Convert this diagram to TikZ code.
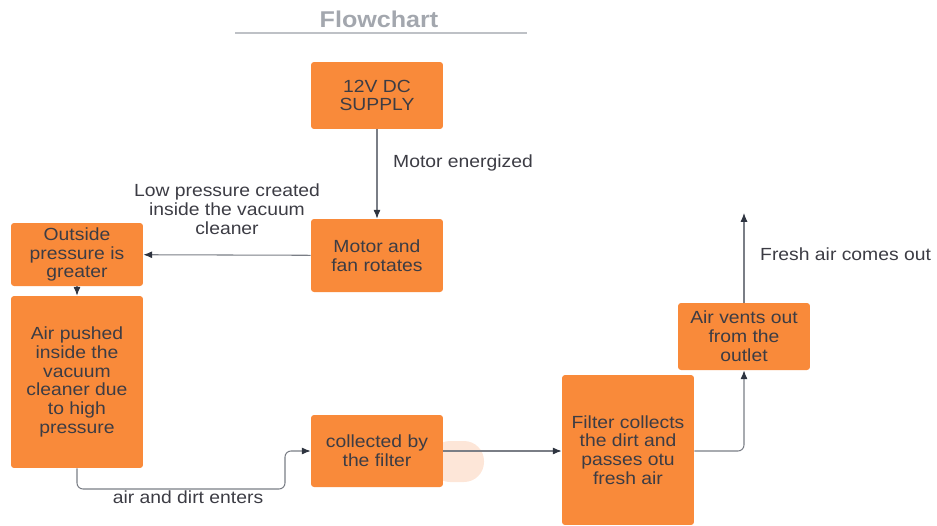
\documentclass[tikz,border=0pt]{standalone}
\usepackage{fontspec}
\setmainfont{Liberation Sans}
\newfontfamily\boxfont[FakeStretch=1.1]{Liberation Sans}
\usetikzlibrary{arrows.meta}

\definecolor{boxorange}{HTML}{F98A3A}
\definecolor{boxtext}{HTML}{3C3C44}
\definecolor{flowline}{HTML}{7A7E86}
\definecolor{tipcolor}{HTML}{2E3440}
\definecolor{titlegray}{HTML}{A3A7AE}
\definecolor{peach}{HTML}{FDE6D8}

\tikzset{
  stepbox/.style={draw=none, fill=boxorange, rounded corners=0.06cm, inner sep=0pt,
    minimum width=2.64cm, text=boxtext, align=center,
    font=\boxfont\fontsize{10}{10.7}\selectfont},
  flow/.style={draw=flowline, line width=0.6pt, -{Latex[length=5pt,width=4pt,color=tipcolor]}},
  note/.style={text=boxtext, align=center, font=\boxfont\fontsize{10}{10.7}\selectfont}
}

\begin{document}
\begin{tikzpicture}[x=0.02cm, y=-0.02cm]
  \useasboundingbox (0,0) rectangle (937,525);

  % title
  \node[text=titlegray, font=\boxfont\fontsize{13}{15}\selectfont\bfseries] (title) at (379,19) {Flowchart};
  \draw[titlegray!70, line width=1.2pt] (235,33) -- (527,33);

  % boxes
  \node[stepbox, minimum height=1.34cm] (supply) at (377,95.5) {12V DC\\SUPPLY};
  \node[stepbox, minimum height=1.46cm] (motor) at (377,255.5) {Motor and\\fan rotates};
  \node[stepbox, minimum height=1.26cm] (outside) at (77,254.5) {Outside\\pressure is\\greater};
  \node[stepbox, minimum height=3.44cm] (pushed) at (77,382) {Air pushed\\inside the\\vacuum\\cleaner due\\to high\\pressure};
  \fill[peach] (430,441) [rounded corners=0.4cm] rectangle (484,482);
  \node[stepbox, minimum height=1.44cm] (collected) at (377,451) {collected by\\the filter};
  \node[stepbox, minimum height=3.0cm] (filter) at (628,450) {Filter collects\\the dirt and\\passes otu\\fresh air};
  \node[stepbox, minimum height=1.34cm] (vents) at (744,336.5) {Air vents out\\from the\\outlet};
  \coordinate (out) at (744,213);

  % connectors
  \draw[flow] (supply) -- (motor);
  \draw[flow] (motor) -- (outside);
  \draw[flow] (outside) -- (pushed);
  \draw[flow, rounded corners=0.12cm] (pushed.south) |- (285,489) |- (collected.west);
  \draw[flow] (collected.east) -- (filter.west |- collected.east);
  \draw[flow, rounded corners=0.12cm] (filter.east |- collected.east) -| (vents.south);
  \draw[flow] (vents) -- (out);

  % connector labels
  \node[note, anchor=west] (energized) at (387,163) {Motor energized};
  \node[note] (lowpress) at (227,209) {Low pressure created\\inside the vacuum\\cleaner};
  \node[note] (enters) at (188,497) {air and dirt enters};
  \node[note, anchor=west] (fresh) at (754,254) {Fresh air comes out};
\end{tikzpicture}
\end{document}
